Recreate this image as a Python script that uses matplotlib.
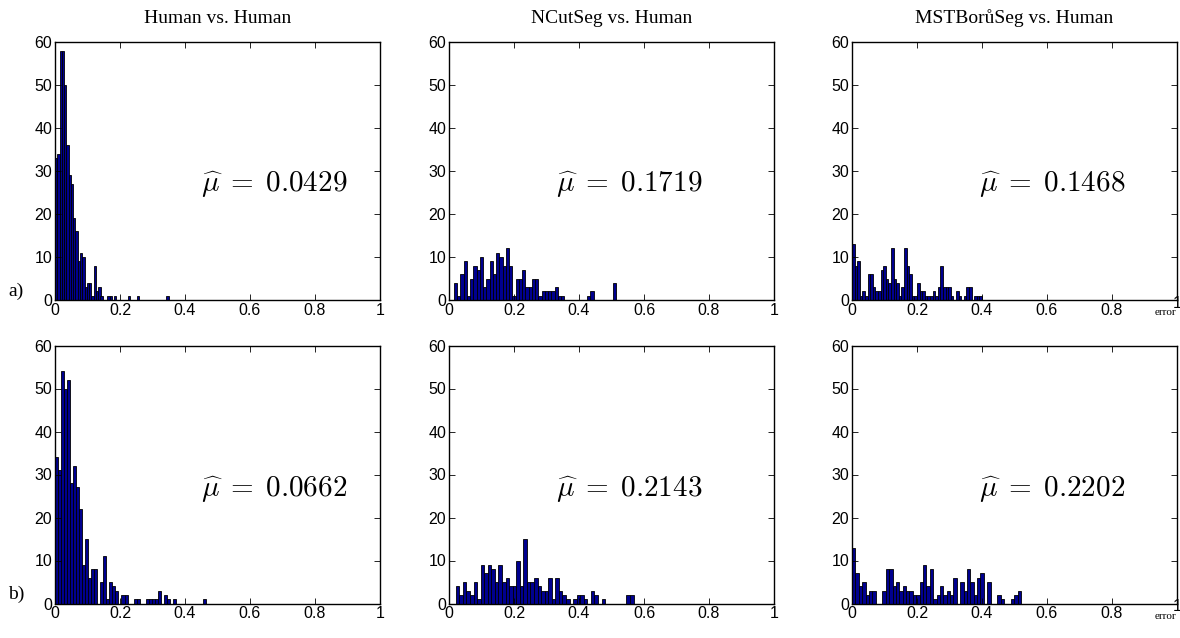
import numpy as np
import matplotlib
matplotlib.use("Agg")
import matplotlib.pyplot as plt
from matplotlib.transforms import ScaledTranslation

plt.rcParams['mathtext.fontset'] = 'cm'
plt.rcParams['font.family'] = ['Liberation Sans', 'DejaVu Sans']

# column titles and row tags
titles = ["Human vs. Human", "NCutSeg vs. Human", "MSTBorůSeg vs. Human"]
rows = ["a)", "b)"]

# histogram counts (50 bins each), plus the bin range
h_a = [33, 34, 58, 58, 50, 36, 29, 27, 19, 16, 9, 11, 10, 3, 4, 4, 1, 8, 2, 3,
       1, 0, 0, 1, 1, 0, 1, 0, 0, 0, 0, 0, 1, 0, 0, 0, 1, 0, 0, 0,
       0, 0, 0, 0, 0, 0, 0, 0, 0, 1]
h_a_range = (0.0, 0.35)
h_b = [34, 31, 54, 50, 52, 28, 32, 27, 22, 9, 15, 6, 8, 8, 0, 5, 11, 1, 5, 4,
       3, 0, 2, 2, 0, 0, 1, 1, 0, 0, 1, 1, 1, 1, 3, 0, 2, 1, 0, 1,
       0, 0, 0, 0, 0, 0, 0, 0, 0, 1]
h_b_range = (0.0, 0.465)

n_a = [4, 1, 6, 9, 1, 5, 8, 7, 10, 3, 5, 9, 6, 11, 10, 8, 12, 8, 1, 5,
       5, 7, 3, 3, 5, 5, 1, 2, 2, 2, 2, 3, 1, 1, 0, 0, 0, 0, 0, 0,
       0, 1, 2, 0, 0, 0, 0, 0, 0, 4]
n_a_range = (0.015, 0.515)
n_b = [4, 2, 5, 3, 2, 5, 1, 9, 7, 9, 8, 5, 9, 5, 6, 4, 4, 10, 4, 15,
       5, 5, 6, 4, 3, 3, 6, 1, 6, 3, 2, 1, 0, 1, 2, 2, 1, 0, 3, 2,
       0, 1, 0, 0, 0, 0, 0, 0, 2, 2]
n_b_range = (0.021, 0.568)

m_a = [13, 8, 9, 1, 2, 1, 6, 6, 3, 2, 2, 7, 8, 5, 4, 12, 5, 4, 1, 3,
       12, 8, 6, 1, 1, 4, 2, 2, 1, 1, 1, 2, 1, 3, 8, 3, 3, 3, 1, 0,
       2, 1, 0, 1, 3, 3, 0, 1, 1, 1]
m_a_range = (0.0, 0.40)
m_b = [13, 7, 4, 5, 2, 3, 3, 0, 0, 3, 8, 8, 4, 5, 3, 4, 3, 3, 2, 2,
       5, 9, 4, 8, 1, 2, 4, 2, 3, 2, 6, 0, 5, 3, 8, 5, 2, 6, 7, 0,
       5, 0, 0, 2, 1, 0, 0, 1, 2, 3]
m_b_range = (0.0, 0.52)

means = [["0.0429", "0.1719", "0.1468"],
         ["0.0662", "0.2143", "0.2202"]]

counts = [[h_a, n_a, m_a], [h_b, n_b, m_b]]
ranges = [[h_a_range, n_a_range, m_a_range], [h_b_range, n_b_range, m_b_range]]

fig = plt.figure(figsize=(11.8, 6.38), dpi=100)

lefts = [55 / 1180, 449 / 1180, 852 / 1180]
bottoms = [1 - 300 / 638, 1 - 603.5 / 638]
w = 325 / 1180
h = 258 / 638
# left edge of the mu label, in axes fraction
mu_x = [0.45, 0.33, 0.39]
mu_y = [0.445, 0.44]

for r in range(2):
    for c in range(3):
        ax = fig.add_axes([lefts[c], bottoms[r], w, h])
        lo, hi = ranges[r][c]
        edges = np.linspace(lo, hi, len(counts[r][c]) + 1)
        ax.bar(edges[:-1], counts[r][c], width=edges[1] - edges[0], align='edge',
               color='#00008f', edgecolor='black', linewidth=0.6)
        ax.set_xlim(0, 1)
        ax.set_ylim(0, 60)
        ax.set_xticks([0, 0.2, 0.4, 0.6, 0.8, 1])
        ax.set_xticklabels(["0", "0.2", "0.4", "0.6", "0.8", "1"])
        ax.set_yticks([0, 10, 20, 30, 40, 50, 60])
        ax.tick_params(direction='in', top=True, right=True, length=4, width=0.6,
                       labelsize=11.5, pad=2)
        for s in ax.spines.values():
            s.set_linewidth(1.0)
        ax.text(mu_x[c], mu_y[r], r'$\widehat{\mu}\;=\;%s$' % means[r][c],
                transform=ax.transAxes, fontsize=21, ha='left', va='center')
        if r == 0:
            ax.set_title(titles[c], fontsize=14, family='Liberation Serif', pad=14)
        if c == 0:
            ax.text(-0.145, 0.035, rows[r], transform=ax.transAxes, fontsize=14,
                    family='Liberation Serif', ha='left', va='center')
        if c == 2:
            # lift the last tick label so "error" fits under it
            last = ax.get_xticklabels()[-1]
            last.set_transform(last.get_transform() +
                               ScaledTranslation(0, 5 / 72, fig.dpi_scale_trans))
            ax.text(0.965, -0.05, "error", transform=ax.transAxes, fontsize=8,
                    family='Liberation Serif', ha='center', va='center')

fig.savefig("out.png", dpi=100)
